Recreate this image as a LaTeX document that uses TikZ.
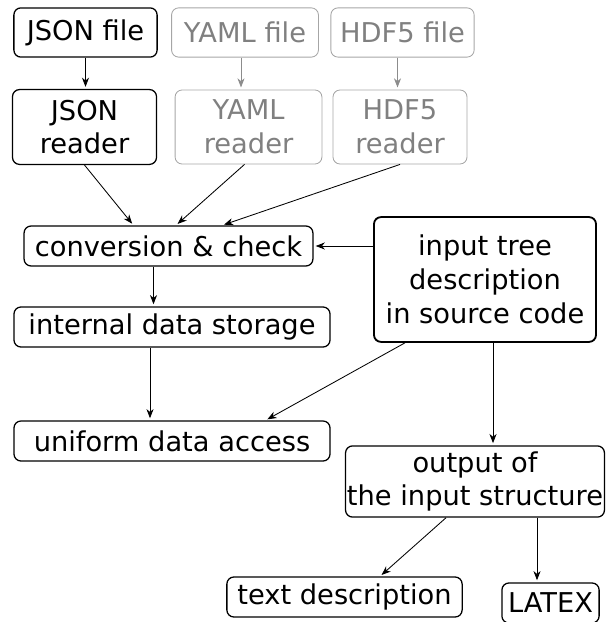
\documentclass[tikz,border=0pt]{standalone}
\usepackage{fontspec}
\setmainfont{DejaVu Sans}
\usetikzlibrary{arrows.meta,calc}
\tikzset{
  box/.style      = { draw, rounded corners=5pt, line width=0.9pt, align=center, inner sep=1pt,
                      font=\fontsize{19.4}{24}\selectfont },
  greybox/.style  = { box, draw=black!35, text=black!50, line width=0.6pt },
  thickbox/.style = { box, line width=1.3pt },
  flow/.style     = { -{Stealth[length=6.5pt,width=5pt,inset=2pt]}, line width=0.6pt, shorten >=1.5pt },
  greyflow/.style = { flow, draw=black!45 }
}

\begin{document}
\begin{tikzpicture}[x=0.025cm, y=-0.025cm]
    \useasboundingbox (0,0) rectangle (606,622);
    \clip (0,0) rectangle (606,622);

    % readers
    \node[box,     minimum width=3.58cm, minimum height=1.23cm] (jsonfile)   at (85.5,32.5) {JSON file};
    \node[greybox, minimum width=3.67cm, minimum height=1.23cm] (yamlfile)   at (245,32.5)  {YAML file};
    \node[greybox, minimum width=3.58cm, minimum height=1.23cm] (hdffile)    at (402.5,32.5) {HDF5 file};

    \node[box,     minimum width=3.6cm,  minimum height=1.87cm] (jsonreader) at (84.5,127)  {JSON\\reader};
    \node[greybox, minimum width=3.67cm, minimum height=1.85cm] (yamlreader) at (248.5,127) {YAML\\reader};
    \node[greybox, minimum width=3.35cm, minimum height=1.85cm] (hdfreader)  at (400,127)   {HDF5\\reader};

    % core
    \node[box,      minimum width=7.22cm, minimum height=1cm]    (conv)    at (168.5,246) {conversion \& check};
    \node[thickbox, minimum width=5.55cm, minimum height=3.12cm] (tree)    at (485,279.5) {input tree\\description\\in source code};
    \node[box,      minimum width=7.9cm,  minimum height=1cm]    (storage) at (172,327)   {internal data storage};
    \node[box,      minimum width=7.9cm,  minimum height=1cm]    (access)  at (172,441)   {uniform data access};

    % output
    \node[box, minimum width=6.45cm, minimum height=1.78cm] (output)   at (475,481.5) {output of\\the input structure};
    \node[box, minimum width=5.88cm, minimum height=1cm]    (textdesc) at (344.5,597) {text description};
    \node[box, minimum width=2.43cm, minimum height=1cm]    (latex)    at (550.5,603) {LATEX};

    \draw[flow]     (jsonfile) -- (jsonfile |- jsonreader.north);
    \draw[greyflow] ($(yamlfile.south)+(-4,0)$) -- ($(yamlfile.south |- yamlreader.north)+(-4,0)$);
    \draw[greyflow] ($(hdffile.south)+(-5,0)$) -- ($(hdffile.south |- hdfreader.north)+(-5,0)$);

    \draw[flow] (jsonreader.south) -- ($(conv.north)+(-35,0)$);
    \draw[flow] ($(yamlreader.south)+(-4,0)$) -- ($(conv.north)+(7.5,0)$);
    \draw[flow] (hdfreader.south) -- ($(conv.north)+(53.5,0)$);
    \draw[flow] (tree.west |- conv.east) -- (conv.east);

    \draw[flow] ($(conv.south)+(-15,0)$) -- ($(conv.south |- storage.north)+(-15,0)$);
    \draw[flow] ($(storage.south)+(-22,0)$) -- ($(storage.south |- access.north)+(-22,0)$);
    \draw[flow] ($(tree.south)+(-80,0)$) -- ($(access.north)+(93.5,0)$);
    \draw[flow] ($(tree.south)+(8,0)$) -- ($(tree.south |- output.north)+(8,0)$);

    \draw[flow] ($(output.south)+(-29,0)$) -- ($(textdesc.north)+(35.5,0)$);
    \draw[flow] ($(output.south)+(62,0)$) -- ($(output.south |- latex.north)+(62,0)$);
\end{tikzpicture}
\end{document}
